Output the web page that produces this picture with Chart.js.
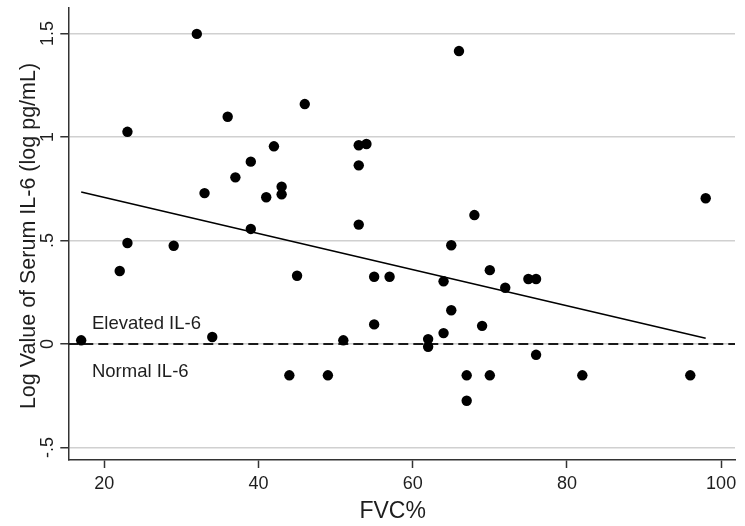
<!DOCTYPE html>
<html>
<head>
<meta charset="utf-8">
<script src="https://cdn.jsdelivr.net/npm/chart.js@4/dist/chart.umd.min.js"></script>
<style>
  html, body { margin: 0; padding: 0; background: #ffffff; }
  #c { display: block; }
</style>
</head>
<body>
<canvas id="c" width="745" height="526"></canvas>
<script>
// ---- data ----
const fvc = [17, 22, 23, 23, 29, 32, 33, 34, 36, 37, 39, 39, 41, 42, 43, 43, 44, 45, 46, 49, 51, 53, 53, 53, 54, 55, 55, 57, 62, 62, 64, 64, 65, 65, 66, 67, 67, 68, 69, 70, 70, 72, 75, 76, 76, 82, 96, 98];
const logIL6 = [0.018, 0.353, 1.025, 0.488, 0.475, 1.498, 0.729, 0.034, 1.098, 0.805, 0.881, 0.556, 0.709, 0.955, 0.760, 0.723, -0.151, 0.330, 1.159, -0.151, 0.018, 0.960, 0.863, 0.577, 0.966, 0.325, 0.095, 0.325, 0.024, -0.013, 0.303, 0.053, 0.477, 0.163, 1.415, -0.151, -0.274, 0.623, 0.088, 0.357, -0.151, 0.272, 0.314, 0.314, -0.052, -0.151, -0.151, 0.704];
const fitX = [17, 98];
const fitY = [0.734, 0.028];
const cutoffY = [0, 0];
const xRange = [15.33, 101.8];
const yRange = [-0.56, 1.623];
const xTicks = [20, 40, 60, 80, 100];
const yTicks = [-0.5, 0, 0.5, 1, 1.5];
const yTickLabels = ['-.5', '0', '.5', '1', '1.5'];
const noteTexts = ['Elevated IL-6', 'Normal IL-6'];
const noteX = [18.4, 18.4];
const noteY = [0.071, -0.158];
const xTitle = 'FVC%';
const yTitle = 'Log Value of Serum IL-6 (log pg/mL)';

const FONT = "'Liberation Sans', Arial, Helvetica, sans-serif";
const TEXT = '#1e1e1e';
const AXIS = '#333333';

const scatterData = fvc.map((x, i) => ({ x: x, y: logIL6[i] }));
const fitData = fitX.map((x, i) => ({ x: x, y: fitY[i] }));
const cutoffData = xRange.map((x, i) => ({ x: x, y: cutoffY[i] }));

const textPlugin = {
  id: 'texts',
  afterDraw(chart) {
    const ctx = chart.ctx;
    const xs = chart.scales.x, ys = chart.scales.y;
    const area = chart.chartArea;
    ctx.save();
    ctx.fillStyle = TEXT;
    // rotated y tick labels
    ctx.font = '18px ' + FONT;
    ctx.textAlign = 'center';
    ctx.textBaseline = 'alphabetic';
    yTicks.forEach((v, i) => {
      const py = ys.getPixelForValue(v);
      ctx.save();
      ctx.translate(53, py);
      ctx.rotate(-Math.PI / 2);
      ctx.fillText(yTickLabels[i], 0, 0);
      ctx.restore();
    });
    // y title
    ctx.font = '21.5px ' + FONT;
    ctx.save();
    ctx.translate(35, (area.top + area.bottom) / 2 + 2);
    ctx.rotate(-Math.PI / 2);
    ctx.fillText(yTitle, 0, 0);
    ctx.restore();
    // x title
    ctx.font = '23px ' + FONT;
    ctx.fillText(xTitle, (area.left + area.right) / 2 - 9, 518);
    // notes
    ctx.font = '18.5px ' + FONT;
    ctx.textAlign = 'left';
    noteTexts.forEach((t, i) => {
      ctx.fillText(t, xs.getPixelForValue(noteX[i]), ys.getPixelForValue(noteY[i]));
    });
    ctx.restore();
  }
};

const bgPlugin = {
  id: 'bg',
  beforeDraw(chart) {
    const ctx = chart.ctx;
    ctx.save();
    ctx.fillStyle = '#ffffff';
    ctx.fillRect(0, 0, chart.width, chart.height);
    ctx.restore();
  }
};

new Chart(document.getElementById('c'), {
  type: 'scatter',
  data: {
    datasets: [
      {
        label: 'IL-6',
        data: scatterData,
        backgroundColor: '#000000',
        borderColor: '#000000',
        pointRadius: 5.2,
        pointBorderWidth: 0,
        showLine: false,
        order: 0
      },
      {
        label: 'Fit',
        data: fitData,
        showLine: true,
        borderColor: '#000000',
        borderWidth: 1.6,
        pointRadius: 0,
        fill: false,
        order: 1
      },
      {
        label: 'Cutoff',
        data: cutoffData,
        showLine: true,
        borderColor: '#1a1a1a',
        borderWidth: 2,
        borderDash: [10, 5],
        pointRadius: 0,
        fill: false,
        order: 2
      }
    ]
  },
  options: {
    responsive: false,
    devicePixelRatio: 1,
    animation: false,
    layout: { padding: { left: 0, right: 10, top: 8, bottom: 0 } },
    plugins: {
      legend: { display: false },
      tooltip: { enabled: false }
    },
    scales: {
      x: {
        type: 'linear',
        min: xRange[0],
        max: xRange[1],
        afterBuildTicks: (s) => { s.ticks = xTicks.map(v => ({ value: v })); },
        afterFit: (s) => { s.height = 66; },
        grid: {
          drawOnChartArea: false,
          drawTicks: true,
          tickLength: 8,
          tickColor: AXIS,
          tickWidth: 1.5
        },
        border: { display: true, color: AXIS, width: 1.5 },
        ticks: {
          color: TEXT,
          font: { family: FONT, size: 18 },
          padding: 5,
          maxRotation: 0,
          minRotation: 0,
          callback: (v) => String(v)
        }
      },
      y: {
        type: 'linear',
        min: yRange[0],
        max: yRange[1],
        afterBuildTicks: (s) => { s.ticks = yTicks.map(v => ({ value: v })); },
        afterFit: (s) => { s.width = 68.3; },
        grid: {
          color: '#d0d0d0',
          lineWidth: 1.5,
          drawTicks: true,
          tickLength: 8,
          tickColor: AXIS,
          tickWidth: 1.5
        },
        border: { display: true, color: AXIS, width: 1.5 },
        ticks: { display: false }
      }
    }
  },
  plugins: [bgPlugin, textPlugin]
});
</script>
</body>
</html>
